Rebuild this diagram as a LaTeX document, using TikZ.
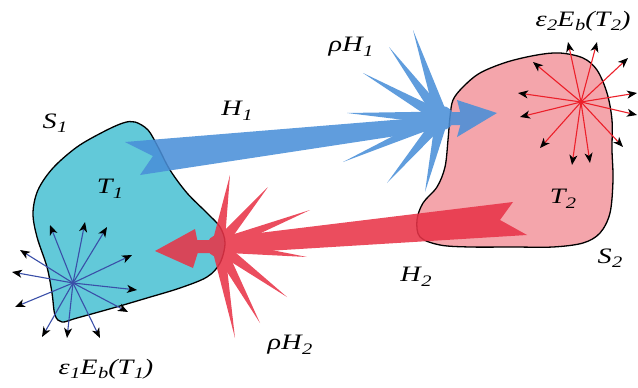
\documentclass[tikz,border=0pt]{standalone}
\usepackage{fontspec}
\setmainfont{Liberation Serif}
\newfontfamily\lblfont[FakeStretch=1.28]{Liberation Serif}
\usetikzlibrary{arrows.meta,calc}
\definecolor{cyanfill}{RGB}{98,201,217}
\definecolor{pinkfill}{RGB}{244,165,171}
\definecolor{bluearr}{RGB}{74,143,216}
\definecolor{redarr}{RGB}{232,52,72}
\definecolor{bluerad}{RGB}{58,79,168}
\definecolor{redrad}{RGB}{236,32,42}
\newcommand{\sbs}[1]{\kern0.02em\raisebox{-0.45ex}{\fontsize{16}{16}\selectfont\itshape #1}}
\begin{document}
\begin{tikzpicture}[x=1pt,y=-1pt,
  blob/.style={draw=black,line width=1.3pt},
  lbl/.style={font=\lblfont\fontsize{22}{24}\selectfont\itshape,inner sep=0pt},
  radblue/.style={bluerad,line width=1.1pt,-{Stealth[length=10pt,width=8pt,inset=2.8pt,color=black]}},
  radred/.style={redrad,line width=1.1pt,-{Stealth[length=10pt,width=8pt,inset=2.8pt,color=black]}},
  beam/.style={transparency group,opacity=0.88}]
\useasboundingbox (0,0) rectangle (638,388);

% body S1
\path[blob,fill=cyanfill] plot[smooth cycle,tension=0.55] coordinates {
 (135,122) (148,130) (158,147) (170,170) (187,193) (207,213) (220,227)
 (225,243) (220,263) (207,277) (180,288) (147,298) (113,308) (77,318)
 (62,322) (55,315) (52,293) (47,267) (37,237) (33,213) (38,190)
 (53,168) (77,147) (103,132) (123,123)};

% body S2
\path[blob,fill=pinkfill] plot[smooth cycle,tension=0.55] coordinates {
 (453,100) (463,87) (480,73) (507,62) (537,55) (560,53) (583,58)
 (597,70) (607,93) (612,120) (612,150) (613,180) (610,213) (600,233)
 (583,243) (553,247) (513,247) (470,247) (440,245) (420,237) (417,220)
 (423,203) (437,187) (445,167) (448,140) (450,117)};

% emission arrows of S1
\coordinate (c1) at (73,283);
\foreach \x/\y [count=\i] in {50/225,85/222,107/227,132/255,137/290,128/312,
  100/338,67/338,42/337,15/307,12/272,20/250}{
  \coordinate (e1-\i) at (\x,\y);
  \draw[radblue] (c1) -- (e1-\i);
}
% emission arrows of S2
\coordinate (c2) at (581,102);
\foreach \x/\y [count=\i] in {568/42,597/42,628/58,637/93,637/115,623/147,
  590/163,572/165,540/148,520/117,518/93,533/62}{
  \coordinate (e2-\i) at (\x,\y);
  \draw[radred] (c2) -- (e2-\i);
}

% blue flux H1
\coordinate (bc) at (442,118);
\begin{scope}[beam]
 \fill[bluearr] (125,142) -- (153,156) -- (140,175) -- (442,129) -- (442,116) -- cycle;
 \fill[bluearr] (bc) circle[radius=12];
 \fill[bluearr] (442,112) rectangle (463,125);
 \fill[bluearr] (457,100) -- (497,113) -- (457,137) -- (462,119) -- cycle;
 \foreach \x/\y in {413/30,389/47,363/73,347/113,343/162,387/183,425/192}{
   \fill[bluearr] ($(bc)!6.5pt!90:(\x,\y)$) -- (\x,\y) -- ($(bc)!6.5pt!-90:(\x,\y)$) -- cycle;
 }
\end{scope}

% red flux H2
\coordinate (rc) at (218,246);
\begin{scope}[beam]
 \fill[redarr] (513,202) -- (500,220) -- (527,235) -- (218,254) -- (218,238) -- cycle;
 \fill[redarr] (rc) circle[radius=11];
 \fill[redarr] (196,240) rectangle (218,253);
 \fill[redarr] (195,229) -- (155,251) -- (193,268) -- (199,249) -- cycle;
 \foreach \x/\y in {230/175,268/187,310/210,307/257,287/297,260/323,235/338}{
   \fill[redarr] ($(rc)!6.5pt!90:(\x,\y)$) -- (\x,\y) -- ($(rc)!6.5pt!-90:(\x,\y)$) -- cycle;
 }
\end{scope}

% labels
\node[lbl] (s1) at (55,123) {S\sbs{1}};
\node[lbl] (t1) at (110,189) {T\sbs{1}};
\node[lbl] (h1) at (237,111) {H\sbs{1}};
\node[lbl] (rh1) at (351,47) {ρH\sbs{1}};
\node[lbl] (eb2) at (583,21) {ε\sbs{2}E\sbs{b}(T\sbs{2})};
\node[lbl] (t2) at (563,199) {T\sbs{2}};
\node[lbl] (s2) at (610,258) {S\sbs{2}};
\node[lbl] (h2) at (416,277) {H\sbs{2}};
\node[lbl] (rh2) at (290,345) {ρH\sbs{2}};
\node[lbl] (eb1) at (106,369) {ε\sbs{1}E\sbs{b}(T\sbs{1})};
\end{tikzpicture}
\end{document}
